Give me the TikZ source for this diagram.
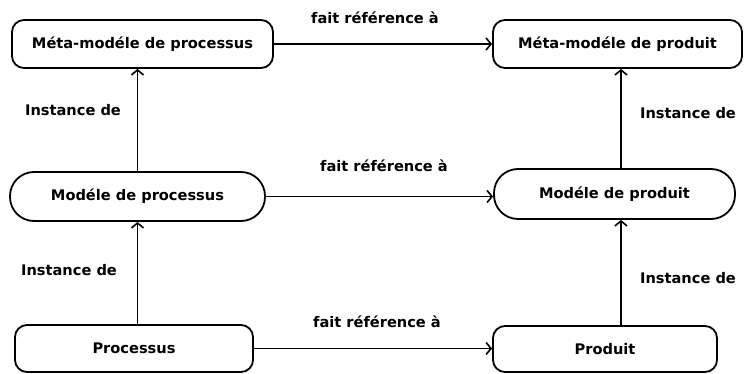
\documentclass[tikz,border=0pt]{standalone}
\usepackage{fontspec}
\setmainfont{DejaVu Sans}
\usetikzlibrary{arrows.meta}
\begin{document}
\begin{tikzpicture}[x=1pt,y=1pt,
  font=\fontsize{14.6}{17}\selectfont\bfseries,
  box/.style={draw, line width=1.8pt, rounded corners=12pt, inner sep=0pt},
  pill/.style={draw, line width=1.8pt, rounded corners=24pt, inner sep=0pt},
  arr/.style={line width=1.8pt, -{Straight Barb[length=5pt,width=12pt,line width=1.6pt]}},
  lbl/.style={inner sep=0pt}]
\useasboundingbox (0,0) rectangle (745,373);
% meta-model level
\node[box, minimum width=261pt, minimum height=48pt] (mmproc) at (142.5,329) {Méta-modéle de processus};
\node[box, minimum width=249pt, minimum height=48pt] (mmprod) at (617.5,329) {Méta-modéle de produit};
% model level
\node[pill, minimum width=255pt, minimum height=49pt] (mproc) at (137.5,176.5) {Modéle de processus};
\node[pill, minimum width=241pt, minimum height=50pt] (mprod) at (614.5,179) {Modéle de produit};
% instance level
\node[box, minimum width=238pt, minimum height=47pt] (proc) at (134,24.5) {Processus};
\node[box, minimum width=224pt, minimum height=46pt] (prod) at (605,24) {Produit};
% vertical axes of the instance arrows
\coordinate (lx) at (137.5,0);
\coordinate (rx) at (621,0);
% "fait référence à" links
\draw[arr] (mmproc.east) -- (mmproc.east -| mmprod.west);
\draw[arr] (mproc.east) -- (mproc.east -| mprod.west);
\draw[arr] (proc.east) -- (proc.east -| prod.west);
% "Instance de" links
\draw[arr] (proc.north -| lx) -- (mproc.south -| lx);
\draw[arr] (mproc.north -| lx) -- (mmproc.south -| lx);
\draw[arr] (prod.north -| rx) -- (mprod.south -| rx);
\draw[arr] (mprod.north -| rx) -- (mmprod.south -| rx);
% labels
\node[lbl] (ref1) at (375,355) {fait référence à};
\node[lbl] (ref2) at (384,207) {fait référence à};
\node[lbl] (ref3) at (377,51) {fait référence à};
\node[lbl] (inst1) at (73,263) {Instance de};
\node[lbl] (inst2) at (69,103) {Instance de};
\node[lbl] (inst3) at (688,260) {Instance de};
\node[lbl] (inst4) at (688,95) {Instance de};
\end{tikzpicture}
\end{document}
